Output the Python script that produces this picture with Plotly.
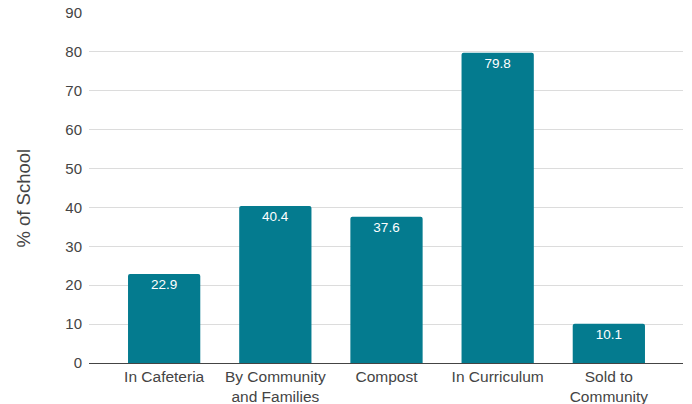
import plotly.graph_objects as go

categories = ["In Cafeteria", "By Community<br>and Families", "Compost", "In Curriculum", "Sold to<br>Community"]
values = [22.9, 40.4, 37.6, 79.8, 10.1]
y_ticks = [0, 10, 20, 30, 40, 50, 60, 70, 80, 90]
y_title = "% of School"

BAR_COLOR = "#047b8f"
TEXT_COLOR = "#444444"
FONT = "Arial, Liberation Sans, sans-serif"

fig = go.Figure(
    go.Bar(
        x=list(range(len(categories))),
        y=values,
        width=0.65,
        marker=dict(color=BAR_COLOR, cornerradius=2, line=dict(width=0)),
        text=[f"{v:.1f}" for v in values],
        textposition="inside",
        insidetextanchor="end",
        textfont=dict(family=FONT, size=13.5, color="white"),
        textangle=0,
    )
)

fig.update_layout(
    width=692,
    height=404,
    margin=dict(l=89, r=9, t=13, b=41),
    paper_bgcolor="white",
    plot_bgcolor="white",
    showlegend=False,
    font=dict(family=FONT, size=15, color=TEXT_COLOR),
)

# vertical axis title placed as an annotation to the left of the tick labels
fig.add_annotation(
    text=y_title,
    textangle=-90,
    xref="paper",
    yref="paper",
    x=-0.111,
    y=0.47,
    xanchor="center",
    yanchor="middle",
    showarrow=False,
    font=dict(family=FONT, size=18.5, color=TEXT_COLOR),
)

fig.update_xaxes(
    tickmode="array",
    tickvals=list(range(len(categories))),
    ticktext=categories,
    range=[-0.676, 4.667],
    showgrid=False,
    showline=False,
    ticks="",
    automargin=False,
    ticklabelstandoff=2,
    tickfont=dict(family=FONT, size=15.5, color=TEXT_COLOR),
)

fig.update_yaxes(
    range=[0, 90],
    tickmode="array",
    tickvals=y_ticks,
    showgrid=True,
    gridcolor="#dcdcdc",
    gridwidth=1,
    zeroline=True,
    zerolinecolor="#444444",
    zerolinewidth=1.2,
    ticks="",
    automargin=False,
    ticklabelstandoff=6,
    tickfont=dict(family=FONT, size=15, color=TEXT_COLOR),
)

fig.write_html("out.html")
